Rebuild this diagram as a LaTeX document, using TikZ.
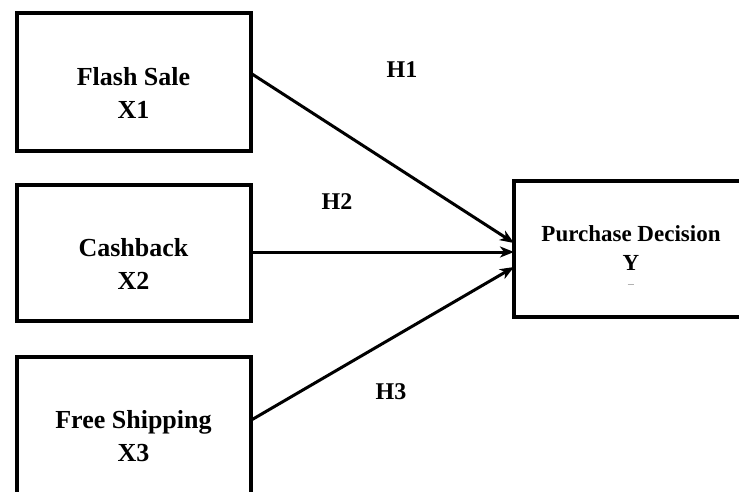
\documentclass[tikz,border=0pt]{standalone}
\usepackage{fontspec}
\setmainfont{Liberation Serif}
\usetikzlibrary{arrows.meta}
\begin{document}
\begin{tikzpicture}[x=1pt,y=-1pt,
  varbox/.style={draw=black,line width=4pt,minimum width=234pt,inner sep=0pt,outer sep=0pt},
  boxtext/.style={align=center,font=\bfseries\fontsize{26}{33}\selectfont,inner sep=0pt},
  hyp/.style={font=\bfseries\fontsize{24}{26}\selectfont,inner sep=0pt},
  path/.style={line width=3pt,-{Stealth[length=14pt,width=11pt,inset=4pt]}}]
\useasboundingbox (0,0) rectangle (739,491);
\clip (0,0) rectangle (739,491);
\fill[white] (0,0) rectangle (739,491);

% independent variables
\node[varbox,minimum height=137.5pt] (b1) at (133.5,82) {};
\node[varbox,minimum height=136pt] (b2) at (133.5,253) {};
\node[varbox,minimum height=137pt] (b3) at (133.5,425.5) {};
\node[boxtext] (t1) at (133.5,93) {Flash Sale\\X1};
\node[boxtext] (t2) at (133.5,264) {Cashback\\X2};
\node[boxtext] (t3) at (133.5,436) {Free Shipping\\X3};

% dependent variable
\node[varbox,minimum height=136pt] (y) at (631,249) {};
\node[align=center,inner sep=0pt,font=\bfseries\fontsize{23}{29}\selectfont] (ty) at (631,248.5) {Purchase Decision\\Y};
\coordinate (m1) at (627.5,284);
\coordinate (m2) at (633.5,284);
\draw[gray!60,line width=0.8pt] (m1) -- (m2);

% hypothesised paths
\draw[path] ([yshift=9pt]b1.east) -- ([yshift=6pt]y.west);
\draw[path] ([yshift=1pt]b2.east) -- ([yshift=-3pt]y.west);
\draw[path] ([yshift=5pt]b3.east) -- ([yshift=-18pt]y.west);

\node[hyp] (h1) at (402,70) {H1};
\node[hyp] (h2) at (337,202) {H2};
\node[hyp] (h3) at (391,392) {H3};
\end{tikzpicture}
\end{document}
